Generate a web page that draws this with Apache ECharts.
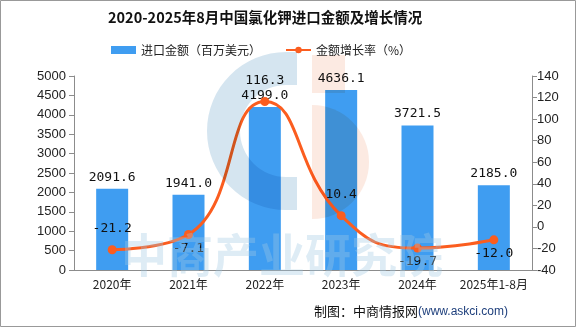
<!DOCTYPE html>
<html><head><meta charset="utf-8">
<script src="https://cdn.jsdelivr.net/npm/echarts@6/dist/echarts.min.js"></script>
<style>html,body{margin:0;padding:0;background:#fff}#c{width:576px;height:327px}</style>
</head><body><div id="c"></div>
<script>
const categories = ['2020年','2021年','2022年','2023年','2024年','2025年1-8月'];
const importValues = [2091.6, 1941.0, 4199.0, 4636.1, 3721.5, 2185.0];
const growthRates = [-21.2, -7.1, 116.3, 10.4, -19.7, -12.0];
const growthLabelPos = ['top','bottom','top','top','bottom','bottom'];
const leftTicks = {min:0, max:5000, interval:500};
const rightTicks = {min:-40, max:140, interval:20};

const chart = echarts.init(document.getElementById('c'), null, {renderer:'canvas'});
const cjk = '"Noto Sans CJK SC", sans-serif';
const mono = '"DejaVu Sans Mono", monospace';
const axisColor = '#8c8c8c';

chart.setOption({
  animation:false,
  backgroundColor:'#fff',
  title:{text:'2020-2025年8月中国氯化钾进口金额及增长情况', left:108, top:10, padding:0,
    textStyle:{fontFamily:cjk, fontSize:14.5, fontWeight:'bold', color:'#111'}},
  legend:{left:111, top:44, padding:0, itemGap:24, itemWidth:25, itemHeight:8,
    textStyle:{fontFamily:cjk, fontSize:12, color:'#222'},
    data:[{name:'进口金额（百万美元）', icon:'rect'}, {name:'金额增长率（%）'}]},
  grid:{left:74, right:44, top:76, bottom:57},
  xAxis:{type:'category', data:categories,
    axisLine:{lineStyle:{color:axisColor}},
    axisTick:{alignWithLabel:false, length:5, lineStyle:{color:axisColor}},
    axisLabel:{fontFamily:cjk, fontSize:12, color:'#222', margin:8, interval:0}},
  yAxis:[
    {type:'value', min:leftTicks.min, max:leftTicks.max, interval:leftTicks.interval,
     axisLine:{show:true, lineStyle:{color:axisColor}},
     axisTick:{show:true, length:5, lineStyle:{color:axisColor}},
     splitLine:{show:false},
     axisLabel:{fontFamily:'"Liberation Sans", sans-serif', fontSize:13, color:'#222', margin:8, formatter:v=>String(v)}},
    {type:'value', min:rightTicks.min, max:rightTicks.max, interval:rightTicks.interval,
     axisLine:{show:true, lineStyle:{color:axisColor}},
     axisTick:{show:true, length:5, lineStyle:{color:axisColor}},
     splitLine:{show:false},
     axisLabel:{fontFamily:'"Liberation Sans", sans-serif', fontSize:13, color:'#222', margin:5, formatter:v=>String(v)}}
  ],
  series:[
    {name:'进口金额（百万美元）', type:'bar', data:importValues, barWidth:32,
     itemStyle:{color:'#3f9df1'},
     label:{show:true, position:'top', distance:5, formatter:p=>p.value.toFixed(1),
       fontFamily:mono, fontSize:13, color:'#111'}},
    {name:'金额增长率（%）', type:'line', yAxisIndex:1, smooth:true,
     data:growthRates.map((v,i)=>({value:v, label:{position:growthLabelPos[i], distance:growthLabelPos[i]==='top'?10:3}})),
     symbol:'circle', symbolSize:9,
     lineStyle:{color:'#fb5d1f', width:3}, itemStyle:{color:'#fb5d1f'},
     label:{show:true, formatter:p=>p.value.toFixed(1), fontFamily:mono, fontSize:13, color:'#111'}}
  ],
  graphic:[
    {type:'rect', shape:{x:0.5, y:0.5, width:575, height:326}, style:{fill:null, stroke:'#999', lineWidth:1}, z:100, silent:true},
    {type:'sector', shape:{cx:286, cy:131, r:79, r0:46, startAngle:Math.PI*0.5, endAngle:Math.PI*1.5}, style:{fill:'rgba(150,190,218,0.4)', blend:'multiply'}, z:50, silent:true},
    {type:'rect', shape:{x:286, y:52, width:11, height:33}, style:{fill:'rgba(150,190,218,0.4)', blend:'multiply'}, z:50, silent:true},
    {type:'rect', shape:{x:286, y:177, width:11, height:33}, style:{fill:'rgba(150,190,218,0.4)', blend:'multiply'}, z:50, silent:true},
    {type:'rect', shape:{x:312, y:55, width:33, height:38}, style:{fill:'rgba(245,185,160,0.3)', blend:'multiply'}, z:50, silent:true},
    {type:'sector', shape:{cx:312, cy:162, r:57, r0:0, startAngle:-Math.PI*0.5, endAngle:Math.PI*0.5}, style:{fill:'rgba(245,185,160,0.3)', blend:'multiply'}, z:50, silent:true},
    {type:'text', left:121, top:232, style:{text:'中商产业研究院', fontFamily:'"Noto Sans CJK SC"', fontSize:46, fontWeight:'bold', fill:'rgba(160,200,225,0.35)'}, z:50, silent:true},
    {type:'text', right:68, top:305, style:{
      rich:{a:{fontFamily:cjk, fontSize:13, fill:'#111'}, b:{fontFamily:'"Liberation Sans", sans-serif', fontSize:12, fill:'#1e3f7c'}},
      text:'{a|制图：中商情报网}{b|(www.askci.com)}'}, z:60, silent:true}
  ]
});
</script></body></html>
